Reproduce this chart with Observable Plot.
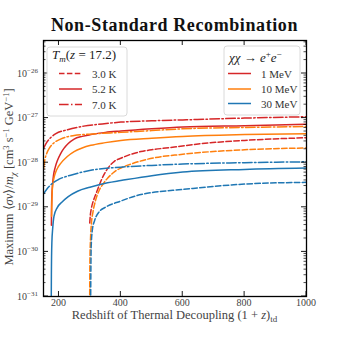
<!DOCTYPE html>
<html><head><meta charset="utf-8">
<script src="https://cdn.jsdelivr.net/npm/d3@7"></script>
<script src="https://cdn.jsdelivr.net/npm/@observablehq/plot@0.6"></script>
<style>
body{margin:0;background:#fff;}
#wrap{position:relative;width:340px;height:340px;font-family:"Liberation Serif",serif;}
#title{position:absolute;left:33px;width:283px;top:16px;height:20px;line-height:18px;font-size:18px;font-weight:bold;letter-spacing:0.6px;text-align:center;color:#111;white-space:nowrap;}
#chart{position:absolute;left:0;top:36px;}
</style></head><body>
<div id="wrap"><div id="title">Non-Standard Recombination</div><div id="chart"></div></div>
<script>
// ---- data: z = (1+z)_td, lv = log10(max <sigma v>/m_chi) ----
// T_m = 3.0 K (dashed)
const z_3K_1 = [299.5,301,304,309,315,325,335,351,379,400,433,465,500,573,650,800,1000];
const lv_3K_1 = [-29.35,-29.2,-29.05,-28.9,-28.78,-28.6,-28.42,-28.2,-27.97,-27.9,-27.81,-27.75,-27.71,-27.65,-27.58,-27.5,-27.44];
const z_3K_10 = [299,300,302,305,310,318,328,340,357,380,400,433,487,600,800,1000];
const lv_3K_10 = [-31.5,-30.2,-29.7,-29.35,-29.1,-28.85,-28.65,-28.5,-28.35,-28.2,-28.12,-28.03,-27.92,-27.81,-27.71,-27.67];
const z_3K_30 = [302,303,304,308,315,330,350,400,450,500,600,700,800,1000];
const lv_3K_30 = [-31.5,-30.5,-29.9,-29.5,-29.3,-29.1,-29.0,-28.86,-28.74,-28.67,-28.6,-28.53,-28.48,-28.44];
// T_m = 5.2 K (solid)
const z_52K_1 = [175.5,176,177,178.5,182,188,195,205,216,230,249,275,303,350,400,500,600,800,1000];
const lv_52K_1 = [-29.4,-29.0,-28.75,-28.55,-28.3,-28.1,-27.95,-27.8,-27.68,-27.57,-27.47,-27.41,-27.37,-27.32,-27.29,-27.24,-27.2,-27.17,-27.14];
const z_52K_10 = [176,177,178.5,183,189,197,205,227,249,275,303,350,400,500,600,800,1000];
const lv_52K_10 = [-29.2,-28.9,-28.6,-28.37,-28.22,-28.1,-28.02,-27.86,-27.75,-27.67,-27.61,-27.55,-27.5,-27.45,-27.41,-27.37,-27.35];
const z_52K_30 = [174.5,175.5,177,180,184,195,210,230,260,300,357,400,500,600,800,1000];
const lv_52K_30 = [-32,-30.5,-29.8,-29.45,-29.2,-29.0,-28.88,-28.76,-28.64,-28.55,-28.45,-28.4,-28.29,-28.21,-28.15,-28.12];
// T_m = 7.0 K (dash-dot)
const z_7K_1 = [150,160,173,190,228,280,340,400,500,600,800,1000];
const lv_7K_1 = [-27.68,-27.55,-27.44,-27.35,-27.26,-27.18,-27.13,-27.09,-27.06,-27.04,-27.0,-26.97];
const z_7K_10 = [150,154,160,170,183,205,249,300,400,500,600,800,1000];
const lv_7K_10 = [-28.15,-27.95,-27.8,-27.66,-27.56,-27.47,-27.39,-27.36,-27.32,-27.28,-27.24,-27.21,-27.19];
const z_7K_30 = [150,160,170,183,200,238,303,400,500,600,800,1000];
const lv_7K_30 = [-28.7,-28.6,-28.52,-28.44,-28.37,-28.28,-28.17,-28.1,-28.06,-28.03,-28.0,-27.98];

const temps = ["3.0 K","5.2 K","7.0 K"];
const masses = ["1 MeV","10 MeV","30 MeV"];
const colors = ["#d62728","#ff7f0e","#1f77b4"];
const dashes = ["5.5,2.4","none","9.6,2.4,1.5,2.4"];
const xTicks = [200,400,600,800,1000];
const yTickExps = [-31,-30,-29,-28,-27,-26];

const curves = [
  [z_3K_1,lv_3K_1,0,0],[z_3K_10,lv_3K_10,0,1],[z_3K_30,lv_3K_30,0,2],
  [z_52K_1,lv_52K_1,1,0],[z_52K_10,lv_52K_10,1,1],[z_52K_30,lv_52K_30,1,2],
  [z_7K_1,lv_7K_1,2,0],[z_7K_10,lv_7K_10,2,1],[z_7K_30,lv_7K_30,2,2]
];
const rows = [];
curves.forEach(([zs,ls,t,m],i)=>zs.forEach((z,j)=>rows.push({id:i,z,v:10**ls[j],t,m})));

const chart = Plot.plot({
  width:340,height:304,marginTop:4,marginLeft:43,marginRight:34,marginBottom:44,
  style:{background:"white",fontFamily:"Liberation Serif, serif"},
  x:{domain:[150,1000],axis:null},
  y:{type:"log",domain:[1e-31,10**-25.26],axis:null},
  marks:[
    ...curves.map((c,i)=>Plot.line(rows.filter(r=>r.id===i),{x:"z",y:"v",stroke:colors[c[3]],strokeWidth:1.5,strokeDasharray:dashes[c[2]],curve:"monotone-x",clip:true})),
    Plot.frame({stroke:"black",strokeWidth:1.3})
  ]
});
document.getElementById("chart").appendChild(chart);

const sx = chart.scale("x"), sy = chart.scale("y");
const svg = d3.select(chart);
const X0 = 43, X1 = 306, Y0 = 4, Y1 = 260;
const g = svg.append("g").attr("stroke","black").attr("stroke-width",0.9);
xTicks.forEach(v=>{const x=sx.apply(v);
  g.append("line").attr("x1",x).attr("x2",x).attr("y1",Y1).attr("y2",Y1-5);
  g.append("line").attr("x1",x).attr("x2",x).attr("y1",Y0).attr("y2",Y0+5);});
yTickExps.forEach(e=>{const y=sy.apply(10**e);
  g.append("line").attr("x1",X0).attr("x2",X0+5).attr("y1",y).attr("y2",y);
  g.append("line").attr("x1",X1).attr("x2",X1-5).attr("y1",y).attr("y2",y);
  for(let k=2;k<10;k++){const v=k*10**e; if(v>10**-25.26) break; const yy=sy.apply(v);
    g.append("line").attr("x1",X0).attr("x2",X0+2.5).attr("y1",yy).attr("y2",yy).attr("stroke-width",0.7);
    g.append("line").attr("x1",X1).attr("x2",X1-2.5).attr("y1",yy).attr("y2",yy).attr("stroke-width",0.7);}
});
const lab = svg.append("g").attr("font-family","Liberation Serif, serif").attr("fill","#444");
xTicks.forEach(v=>lab.append("text").attr("x",sx.apply(v)).attr("y",Y1+10).attr("text-anchor","middle").attr("font-size",10).text(v));
yTickExps.forEach(e=>{const t=lab.append("text").attr("x",38).attr("y",sy.apply(10**e)+3.5).attr("text-anchor","end").attr("font-size",10);
  t.append("tspan").text("10"); t.append("tspan").attr("dy",-4).attr("font-size",7).text("\u2212"+(-e));});
// axis labels
const xl = lab.append("text").attr("x",174.5).attr("y",283).attr("text-anchor","middle").attr("font-size",12.5);
xl.append("tspan").text("Redshift of Thermal Decoupling (1 + ");
xl.append("tspan").attr("font-style","italic").text("z");
xl.append("tspan").text(")");
xl.append("tspan").attr("dy",2.5).attr("font-size",9).text("td");
const yl = lab.append("text").attr("transform","translate(13,141) rotate(-90)").attr("text-anchor","middle").attr("font-size",12.5);
yl.append("tspan").text("Maximum \u27E8");
yl.append("tspan").attr("font-style","italic").text("\u03C3v");
yl.append("tspan").text("\u27E9/");
yl.append("tspan").attr("font-style","italic").text("m");
yl.append("tspan").attr("dy",2.5).attr("font-size",9).attr("font-style","italic").text("\u03C7");
yl.append("tspan").attr("dy",-2.5).text(" [cm");
yl.append("tspan").attr("dy",-4).attr("font-size",8.5).text("3");
yl.append("tspan").attr("dy",4).text(" s");
yl.append("tspan").attr("dy",-4).attr("font-size",8.5).text("\u22121");
yl.append("tspan").attr("dy",4).text(" GeV");
yl.append("tspan").attr("dy",-4).attr("font-size",8.5).text("\u22121");
yl.append("tspan").attr("dy",4).text("]");

// legends
const leg = svg.append("g").attr("font-family","Liberation Serif, serif").attr("text-anchor","start");
function box(x,y,w,h){leg.append("rect").attr("x",x).attr("y",y).attr("width",w).attr("height",h).attr("rx",3).attr("fill","white").attr("fill-opacity",0.85).attr("stroke","#d0d0d0").attr("stroke-width",0.8);}
box(47,11,80,69);
const lt = leg.append("text").attr("x",52).attr("y",23).attr("font-size",13).attr("fill","#222").attr("text-anchor","start");
lt.append("tspan").attr("font-style","italic").text("T");
lt.append("tspan").attr("dy",2.5).attr("font-size",9).attr("font-style","italic").text("m");
lt.append("tspan").attr("dy",-2.5).text("(");
lt.append("tspan").attr("font-style","italic").text("z");
lt.append("tspan").text(" = 17.2)");
temps.forEach((t,i)=>{const y=[37.5,53,68.5][i];
  leg.append("line").attr("x1",59).attr("x2",82).attr("y1",y).attr("y2",y).attr("stroke",colors[0]).attr("stroke-width",1.5).attr("stroke-dasharray",dashes[i]);
  leg.append("text").attr("x",92).attr("y",y+4).attr("font-size",11).attr("fill","#333").attr("text-anchor","start").text(t);});
box(224,10,76,69);
const rt = leg.append("text").attr("x",229).attr("y",26).attr("font-size",13).attr("fill","#222").attr("text-anchor","start");
rt.append("tspan").attr("font-style","italic").text("\u03C7\u03C7");
rt.append("tspan").text(" \u2192 ");
rt.append("tspan").attr("font-style","italic").text("e");
rt.append("tspan").attr("dy",-5).attr("font-size",9).text("+");
rt.append("tspan").attr("dy",5).attr("font-style","italic").text("e");
rt.append("tspan").attr("dy",-5).attr("font-size",9).text("\u2212");
masses.forEach((m,i)=>{const y=[37.5,53,67.5][i];
  leg.append("line").attr("x1",228).attr("x2",251).attr("y1",y).attr("y2",y).attr("stroke",colors[i]).attr("stroke-width",1.5);
  leg.append("text").attr("x",261).attr("y",y+4).attr("font-size",11).attr("fill","#333").attr("text-anchor","start").text(m);});
</script>
</body></html>
